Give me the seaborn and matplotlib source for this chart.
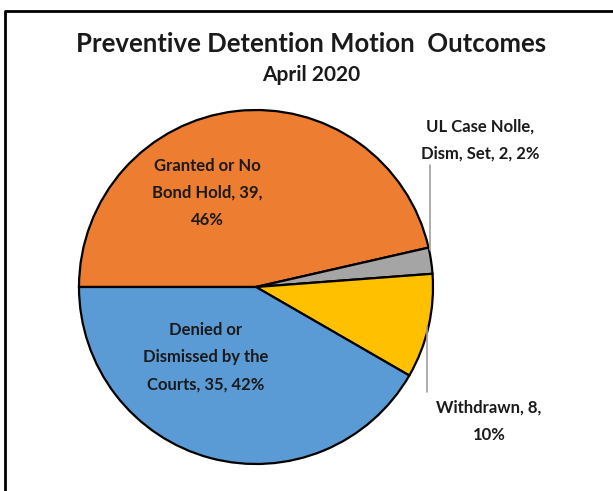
import matplotlib
matplotlib.use("Agg")
import matplotlib.pyplot as plt
from matplotlib.lines import Line2D
import seaborn as sns

# chart data
categories = ["Granted or No\nBond Hold", "UL Case Nolle,\nDism, Set", "Withdrawn", "Denied or\nDismissed by the\nCourts"]
counts = [39, 2, 8, 35]
percents = [46, 2, 10, 42]
colors = ["#ED7D31", "#A5A5A5", "#FFC000", "#5B9BD5"]
title = "Preventive Detention Motion  Outcomes"
subtitle = "April 2020"

sns.set_theme(style="white")
plt.rcParams["font.family"] = ["Lato", "DejaVu Sans"]

W, H = 613, 491
fig = plt.figure(figsize=(W / 100, H / 100), dpi=100)

cx, cy, r = 256, 287, 177
ax = fig.add_axes([(cx - r) / W, (H - cy - r) / H, 2 * r / W, 2 * r / H])
ax.pie(counts, colors=colors, startangle=180, counterclock=False, radius=1,
       wedgeprops=dict(edgecolor="black", linewidth=1.6))
ax.set_xlim(-1, 1)
ax.set_ylim(-1, 1)
ax.set_axis_off()


def to_data(px, py):
    return (px - cx) / r, (cy - py) / r


labels = [
    f"Granted or No\nBond Hold, {counts[0]},\n{percents[0]}%",
    f"UL Case Nolle,\nDism, Set, {counts[1]}, {percents[1]}%",
    f"Withdrawn, {counts[2]},\n{percents[2]}%",
    f"Denied or\nDismissed by the\nCourts, {counts[3]}, {percents[3]}%",
]
label_pos = [(207, 193), (480, 140), (489, 421), (206, 357)]
for txt, (px, py) in zip(labels, label_pos):
    x, y = to_data(px, py)
    ax.text(x, y, txt, ha="center", va="center", fontsize=12, fontweight="bold",
            color="#1a1a1a", linespacing=1.88, clip_on=False)

# leader lines
for (px, y0, y1) in [(430, 165, 250), (427, 327, 392)]:
    xa, ya = to_data(px, y0)
    xb, yb = to_data(px, y1)
    ax.plot([xa, xb], [ya, yb], color="#A0A0A0", lw=1.2, clip_on=False)

fig.text(311 / W, 1 - 44 / H, title, ha="center", va="center", fontsize=18.5,
         fontweight="bold", color="#1a1a1a")
fig.text(311 / W, 1 - 75 / H, subtitle, ha="center", va="center", fontsize=15,
         fontweight="bold", color="#1a1a1a")

# frame (top and left edges only are visible)
fig.add_artist(Line2D([5 / W, 5 / W, 1], [0, 1 - 11 / H, 1 - 11 / H],
                      transform=fig.transFigure, color="black", lw=2))

fig.savefig("out.png", dpi=100)
